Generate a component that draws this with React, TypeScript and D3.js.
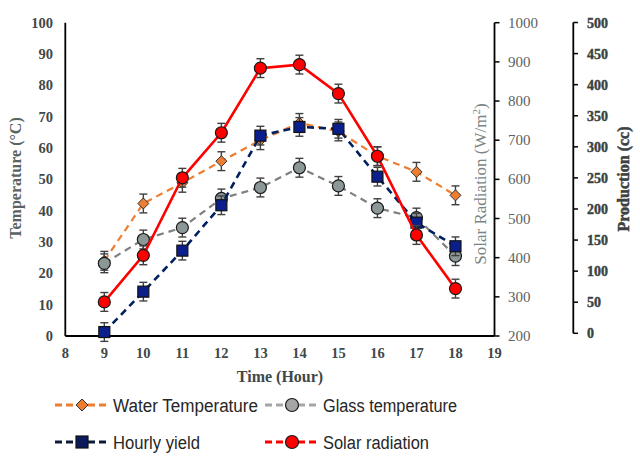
import React from "react";
import * as d3 from "d3";

const hours = [9, 10, 11, 12, 13, 14, 15, 16, 17, 18];
const waterTemp = [24, 42.3, 48.9, 55.8, 62.5, 68, 65.3, 57.4, 52.4, 44.9];
const glassTemp = [23.2, 30.8, 34.6, 43.9, 47.4, 53.7, 47.9, 40.8, 37.8, 25.5];
const solarRad = [287, 406, 604, 719, 884, 893, 819, 659, 458, 321];
const hourlyYield = [2, 67, 133, 206, 318, 332, 329, 252, 178, 140];
const waterErr = [3, 3, 3, 3, 3, 3, 3, 3, 3, 3];
const glassErr = [3, 3, 3, 3, 3, 3, 3, 3, 3, 3];
const solarErr = [24, 24, 24, 24, 24, 24, 24, 24, 24, 24];
const yieldErr = [15, 15, 15, 15, 15, 15, 15, 15, 15, 15];

const xTicks = [8, 9, 10, 11, 12, 13, 14, 15, 16, 17, 18, 19];
const leftTicks = [0, 10, 20, 30, 40, 50, 60, 70, 80, 90, 100];
const solarTicks = [200, 300, 400, 500, 600, 700, 800, 900, 1000];
const prodTicks = [0, 50, 100, 150, 200, 250, 300, 350, 400, 450, 500];

const W = 640;
const H = 463;
const serif = "'Liberation Serif', 'Times New Roman', serif";
const sans = "'Liberation Sans', Arial, sans-serif";

export default function App() {
  const x = d3.scaleLinear().domain([8, 19]).range([65.3, 494.5]);
  const yL = d3.scaleLinear().domain([0, 100]).range([336, 22.7]);
  const yS = d3.scaleLinear().domain([200, 1000]).range([336, 22.7]);
  const yP = d3.scaleLinear().domain([0, 500]).range([333.3, 22.5]);

  const errColor = "#404040";

  const series = [
    { name: "water", vals: waterTemp, err: waterErr, y: yL, color: "#ED7D31", dash: "7,5", width: 2.2, marker: "diamond", fill: "#ED7D31" },
    { name: "glass", vals: glassTemp, err: glassErr, y: yL, color: "#7F7F7F", dash: "7,5", width: 2.2, marker: "circle", fill: "#8C9898" },
    { name: "yield", vals: hourlyYield, err: yieldErr, y: yP, color: "#002060", dash: "7,5", width: 2.6, marker: "square", fill: "#0B1F8C" },
    { name: "solar", vals: solarRad, err: solarErr, y: yS, color: "#FF0000", dash: null, width: 2.6, marker: "circle", fill: "#FF0000" },
  ];

  const marker = (type: string, cx: number, cy: number, fill: string, key: string, r = 6) => {
    if (type === "circle") return <circle key={key} cx={cx} cy={cy} r={r} fill={fill} stroke="#1a1a1a" strokeWidth={1.2} />;
    if (type === "square") return <rect key={key} x={cx - r + 0.5} y={cy - r + 0.5} width={2 * r - 1} height={2 * r - 1} fill={fill} stroke="#111" strokeWidth={1.2} />;
    const d = r - 0.5;
    return <path key={key} d={`M${cx},${cy - d}L${cx + d},${cy}L${cx},${cy + d}L${cx - d},${cy}Z`} fill={fill} stroke="#333" strokeWidth={1} />;
  };

  const legendItems = [
    { label: "Water Temperature", lx: 55, ly: 405, color: "#ED7D31", marker: "diamond", fill: "#ED7D31", tl: 145 },
    { label: "Glass temperature", lx: 265, ly: 405, color: "#A5A5A5", marker: "circle", fill: "#A5A5A5", tl: 134 },
    { label: "Hourly yield", lx: 55, ly: 442, color: "#0D1A3A", marker: "square", fill: "#0B1A5C", tl: 87 },
    { label: "Solar radiation", lx: 265, ly: 442, color: "#FF0000", marker: "circle", fill: "#FF0000", tl: 106 },
  ];

  return (
    <div style={{ position: "fixed", left: 0, top: 0 }}>
      <svg width={W} height={H} style={{ display: "block", background: "#fff" }}>
        {/* Left axis */}
        <line x1={x(8)} x2={x(8)} y1={yL(0)} y2={yL(100)} stroke="#000" strokeWidth={1.8} />
        {leftTicks.map((t) => (
          <text key={"l" + t} x={53} y={yL(t) + 5} textAnchor="end" fontFamily={serif} fontWeight="bold" fontSize={14.5} fill="#404848">
            {t}
          </text>
        ))}
        {/* Bottom axis */}
        <line x1={x(8)} x2={x(19)} y1={yL(0)} y2={yL(0)} stroke="#000" strokeWidth={1.8} />
        {xTicks.map((t) => (
          <text key={"x" + t} x={x(t)} y={358} textAnchor="middle" fontFamily={serif} fontWeight="bold" fontSize={14.5} fill="#404848">
            {t}
          </text>
        ))}
        {/* Solar axis */}
        <line x1={x(19)} x2={x(19)} y1={yS(200)} y2={yS(1000)} stroke="#000" strokeWidth={1.8} />
        {solarTicks.map((t) => (
          <g key={"s" + t}>
            <line x1={x(19)} x2={x(19) + 5} y1={yS(t)} y2={yS(t)} stroke="#000" strokeWidth={1.5} />
            <text x={508} y={yS(t) + 5} fontFamily={serif} fontSize={15} fill="#5A6262">
              {t}
            </text>
          </g>
        ))}
        {/* Production axis */}
        <line x1={573.3} x2={573.3} y1={yP(0)} y2={yP(500)} stroke="#000" strokeWidth={1.8} />
        {prodTicks.map((t) => (
          <g key={"p" + t}>
            <line x1={573.3} x2={578} y1={yP(t)} y2={yP(t)} stroke="#000" strokeWidth={1.5} />
            <text x={587} y={yP(t) + 5} fontFamily={serif} fontWeight="bold" fontSize={14} fill="#3A4242" stroke="#3A4242" strokeWidth={0.4}>
              {t}
            </text>
          </g>
        ))}

        {/* Axis titles */}
        <text transform="translate(21,178) rotate(-90)" textAnchor="middle" fontFamily={serif} fontWeight="bold" fontSize={16} fill="#5A6262">
          Temperature (°C)
        </text>
        <text transform="translate(486,184) rotate(-90)" textAnchor="middle" fontFamily={serif} fontSize={17} fill="#7A8484">
          Solar Radiation (W/m<tspan dy={-6} fontSize={11}>2</tspan>
          <tspan dy={6}>)</tspan>
        </text>
        <text transform="translate(629,179) rotate(-90)" textAnchor="middle" fontFamily={serif} fontWeight="bold" fontSize={16} fill="#3A4242" stroke="#3A4242" strokeWidth={0.5}>
          Production (cc)
        </text>
        <text x={280} y={382} textAnchor="middle" fontFamily={serif} fontWeight="bold" fontSize={16} fill="#404848">
          Time (Hour)
        </text>

        {/* Series */}
        {series.map((s) => {
          const line = d3
            .line<number>()
            .x((_, i) => x(hours[i]))
            .y((v) => s.y(v));
          return (
            <g key={s.name}>
              <path d={line(s.vals) || ""} fill="none" stroke={s.color} strokeWidth={s.width} strokeDasharray={s.dash || undefined} />
              {s.vals.map((v, i) => {
                const cx = x(hours[i]);
                const top = s.y(v + s.err[i]);
                const bot = s.y(v - s.err[i]);
                return (
                  <g key={i}>
                    <line x1={cx} x2={cx} y1={top} y2={bot} stroke={errColor} strokeWidth={1.4} />
                    <line x1={cx - 4} x2={cx + 4} y1={top} y2={top} stroke={errColor} strokeWidth={1.4} />
                    <line x1={cx - 4} x2={cx + 4} y1={bot} y2={bot} stroke={errColor} strokeWidth={1.4} />
                  </g>
                );
              })}
              {s.vals.map((v, i) => marker(s.marker, x(hours[i]), s.y(v), s.fill, s.name + i))}
            </g>
          );
        })}

        {/* Legend */}
        {legendItems.map((it) => (
          <g key={it.label}>
            <line x1={it.lx} x2={it.lx + 53} y1={it.ly} y2={it.ly} stroke={it.color} strokeWidth={3} strokeDasharray="7,4" />
            {marker(it.marker, it.lx + 27, it.ly, it.fill, it.label + "m", 6.5)}
            <text x={it.lx + 58} y={it.ly + 6.5} fontFamily={sans} fontSize={18} fill="#262626" textLength={it.tl} lengthAdjust="spacingAndGlyphs">
              {it.label}
            </text>
          </g>
        ))}
      </svg>
    </div>
  );
}
